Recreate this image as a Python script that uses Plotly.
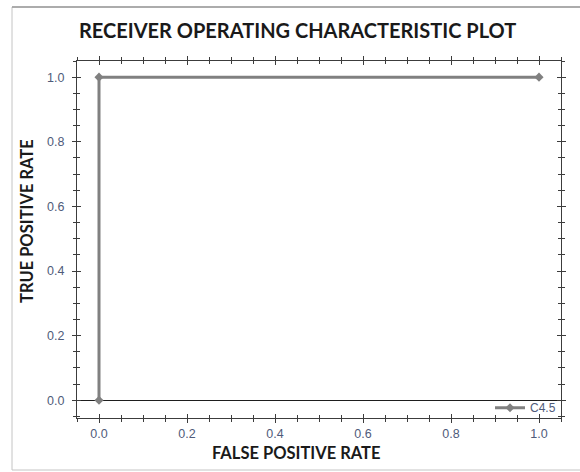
import plotly.graph_objects as go

# Data
fpr = [0.0, 0.0, 1.0]
tpr = [0.0, 1.0, 1.0]
series_name = "C4.5"
chart_title = "RECEIVER OPERATING CHARACTERISTIC PLOT"
x_title = "FALSE POSITIVE RATE"
y_title = "TRUE POSITIVE RATE"

W, H = 580, 472
L, R, T, B = 77, 561, 61, 418  # plot area in px

def px(x):
    return (x - L) / (R - L)

def py(y):
    return (B - y) / (B - T)

tick_color = "#4f5b7a"
axis_color = "#3c3c3c"
line_gray = "#808080"

fig = go.Figure()
fig.add_trace(go.Scatter(
    x=fpr, y=tpr, name=series_name, mode="lines+markers",
    line=dict(color=line_gray, width=3),
    marker=dict(symbol="diamond", size=7, color=line_gray),
))
# invisible trace anchoring the overlay axes (inside tick marks)
fig.add_trace(go.Scatter(x=[None], y=[None], xaxis="x2", yaxis="y2",
                         showlegend=False, hoverinfo="skip"))

common = dict(showgrid=False, showline=True, linecolor=axis_color, linewidth=1,
              tickcolor=axis_color, tickwidth=1, ticklen=4, tick0=0, dtick=0.2,
              tickformat=".1f",
              tickfont=dict(family="Liberation Sans, Arial", size=12.5, color=tick_color))

fig.update_layout(
    width=W, height=H,
    margin=dict(l=L, r=W - R, t=T, b=H - B),
    paper_bgcolor="white", plot_bgcolor="white",
    showlegend=True,
    legend=dict(x=1.0, y=-0.012, xanchor="right", yanchor="bottom",
                bgcolor="rgba(0,0,0,0)", borderwidth=0,
                font=dict(family="Liberation Sans, Arial", size=12, color=tick_color),
                itemwidth=30, tracegroupgap=0),
    xaxis=dict(range=[-0.05, 1.05], zeroline=False, mirror="ticks", ticks="outside",
               ticklabelstandoff=0,
               minor=dict(dtick=0.05, ticks="outside", ticklen=3, tickcolor=axis_color),
               **common),
    yaxis=dict(range=[-0.055, 1.05], zeroline=True, zerolinecolor="#1e1e1e",
               zerolinewidth=1, mirror="ticks", ticks="outside", ticklabelstandoff=5,
               minor=dict(dtick=0.05, ticks="outside", ticklen=3, tickcolor=axis_color),
               **common),
    xaxis2=dict(range=[-0.05, 1.05], overlaying="x", anchor="y2", showgrid=False,
                zeroline=False, showline=False, showticklabels=False, mirror="ticks",
                ticks="inside", ticklen=4, tickcolor=axis_color, tick0=0, dtick=0.2,
                minor=dict(dtick=0.05, ticks="inside", ticklen=3, tickcolor=axis_color)),
    yaxis2=dict(range=[-0.055, 1.05], overlaying="y", anchor="x2", showgrid=False,
                zeroline=False, showline=False, showticklabels=False, mirror="ticks",
                ticks="inside", ticklen=4, tickcolor=axis_color, tick0=0, dtick=0.2,
                minor=dict(dtick=0.05, ticks="inside", ticklen=3, tickcolor=axis_color)),
)

title_font = dict(family="Lato, Open Sans, sans-serif", color="#1a1a1a")
fig.add_annotation(text="<b>%s</b>" % chart_title, xref="paper", yref="paper",
                   x=px(297), y=py(30), xanchor="center", yanchor="middle",
                   showarrow=False, font=dict(size=20, **title_font))
fig.add_annotation(text="<b>%s</b>" % x_title, xref="paper", yref="paper",
                   x=px(296), y=py(453), xanchor="center", yanchor="middle",
                   showarrow=False, font=dict(size=16.5, **title_font))
fig.add_annotation(text="<b>%s</b>" % y_title, xref="paper", yref="paper",
                   x=px(27), y=py(221), xanchor="center", yanchor="middle",
                   textangle=-90, showarrow=False, font=dict(size=16.5, **title_font))

# outer frame
fig.add_shape(type="rect", xref="paper", yref="paper",
              x0=px(12), x1=px(600), y0=py(470), y1=py(7),
              line=dict(color="#c4c4c4", width=1), layer="below")
fig.add_shape(type="line", xref="paper", yref="paper",
              x0=px(12), x1=px(600), y0=py(7), y1=py(7),
              line=dict(color="#9a9a9a", width=1.5), layer="below")

fig.write_html("out.html")
